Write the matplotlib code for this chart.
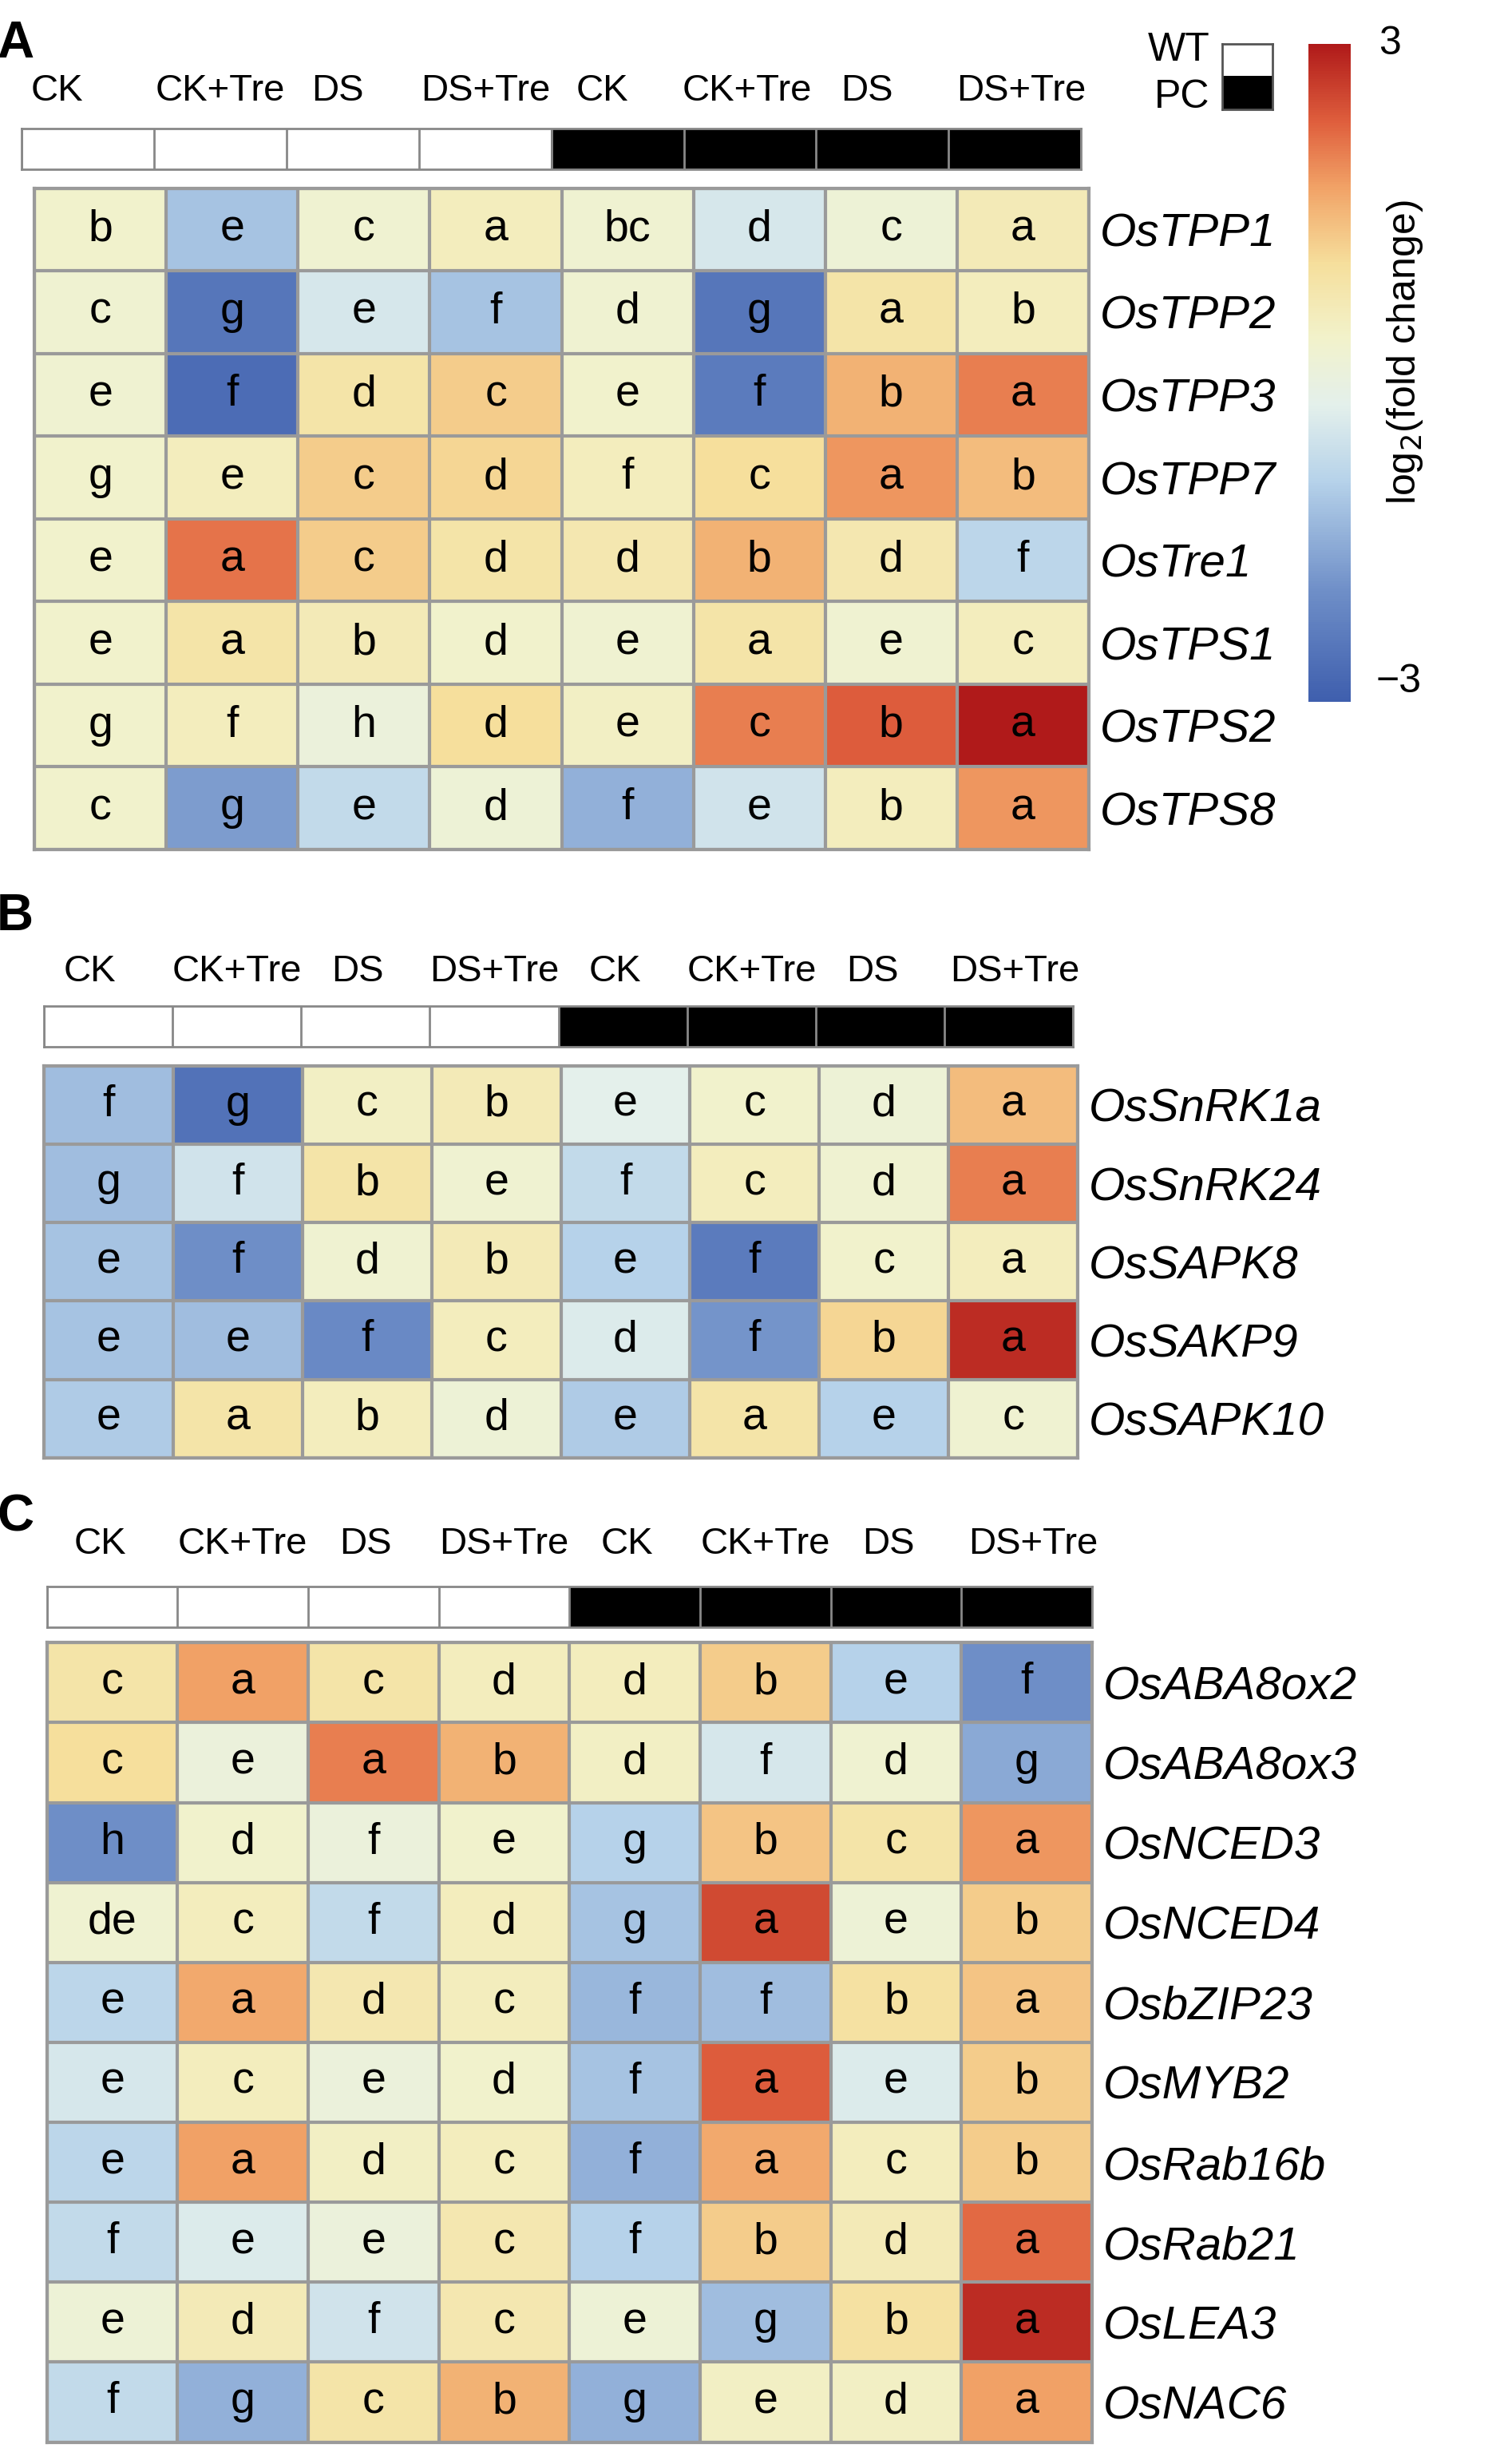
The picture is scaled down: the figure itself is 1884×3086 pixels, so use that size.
import matplotlib
matplotlib.use("Agg")
import matplotlib.pyplot as plt
import numpy as np
from matplotlib.colors import Normalize, LinearSegmentedColormap

plt.rcParams['font.family'] = ['Liberation Sans', 'DejaVu Sans']

conds = ["CK", "CK+Tre", "DS", "DS+Tre", "CK", "CK+Tre", "DS", "DS+Tre"]
genes_A = ["OsTPP1","OsTPP2","OsTPP3","OsTPP7","OsTre1","OsTPS1","OsTPS2","OsTPS8"]
vals_A = [[0.3,-1.2,0.2,0.5,0.2,-0.5,0.1,0.6],
          [0.2,-2.5,-0.5,-1.2,0.2,-2.5,0.8,0.5],
          [0.2,-2.7,0.8,1.2,0.3,-2.4,1.5,2.0],
          [0.3,0.5,1.2,1.1,0.5,1.0,1.8,1.4],
          [0.3,2.1,1.2,0.8,0.7,1.5,0.7,-0.9],
          [0.3,0.8,0.6,0.3,0.2,0.8,0.2,0.5],
          [0.3,0.5,0.0,1.0,0.4,2.0,2.3,3.0],
          [0.3,-1.8,-0.8,0.1,-1.5,-0.6,0.5,1.8]]
let_A = [["b","e","c","a","bc","d","c","a"],
         ["c","g","e","f","d","g","a","b"],
         ["e","f","d","c","e","f","b","a"],
         ["g","e","c","d","f","c","a","b"],
         ["e","a","c","d","d","b","d","f"],
         ["e","a","b","d","e","a","e","c"],
         ["g","f","h","d","e","c","b","a"],
         ["c","g","e","d","f","e","b","a"]]
genes_B = ["OsSnRK1a","OsSnRK24","OsSAPK8","OsSAKP9","OsSAPK10"]
vals_B = [[-1.3,-2.6,0.4,0.6,-0.3,0.3,0.1,1.4],
          [-1.3,-0.6,0.8,0.2,-0.8,0.5,0.2,2.0],
          [-1.2,-2.0,0.2,0.6,-1.0,-2.4,0.3,0.5],
          [-1.2,-1.3,-2.1,0.5,-0.4,-1.9,1.1,2.8],
          [-1.1,0.8,0.5,0.1,-1.1,0.8,-1.0,0.2]]
let_B = [["f","g","c","b","e","c","d","a"],
         ["g","f","b","e","f","c","d","a"],
         ["e","f","d","b","e","f","c","a"],
         ["e","e","f","c","d","f","b","a"],
         ["e","a","b","d","e","a","e","c"]]
genes_C = ["OsABA8ox2","OsABA8ox3","OsNCED3","OsNCED4","OsbZIP23","OsMYB2","OsRab16b","OsRab21","OsLEA3","OsNAC6"]
vals_C = [[0.8,1.7,0.8,0.5,0.5,1.2,-1.0,-2.0],
          [1.0,0.0,2.0,1.5,0.4,-0.5,0.2,-1.6],
          [-2.0,0.3,0.0,0.3,-1.0,1.3,0.8,1.8],
          [0.2,0.5,-0.8,0.5,-1.2,2.5,0.1,1.2],
          [-0.9,1.6,0.7,0.5,-1.4,-1.3,0.9,1.3],
          [-0.5,0.5,0.0,0.3,-1.2,2.3,-0.4,1.2],
          [-0.9,1.7,0.4,0.5,-1.5,1.6,0.5,1.2],
          [-0.8,-0.4,0.0,0.7,-1.0,1.2,0.6,2.2],
          [0.1,0.6,-0.6,0.7,0.1,-1.3,0.9,2.8],
          [-0.8,-1.5,0.8,1.5,-1.5,0.4,0.4,1.7]]
let_C = [["c","a","c","d","d","b","e","f"],
         ["c","e","a","b","d","f","d","g"],
         ["h","d","f","e","g","b","c","a"],
         ["de","c","f","d","g","a","e","b"],
         ["e","a","d","c","f","f","b","a"],
         ["e","c","e","d","f","a","e","b"],
         ["e","a","d","c","f","a","c","b"],
         ["f","e","e","c","f","b","d","a"],
         ["e","d","f","c","e","g","b","a"],
         ["f","g","c","b","g","e","d","a"]]
genotype = [0,0,0,0,1,1,1,1]

W, H = 960.0, 1572.0
fig = plt.figure(figsize=(18.84, 30.86), dpi=100)
stops = [(0.0, "#3f5fae"), (1/6, "#6f8fc8"), (2/6, "#b6d2ea"), (0.45, "#e4f0ec"),
         (0.55, "#f2f3cc"), (4/6, "#f6df9c"), (0.78, "#f2a468"), (0.88, "#e0603e"), (1.0, "#b01a1a")]
cmap = LinearSegmentedColormap.from_list("hm", stops)
norm = Normalize(-3, 3)

def ax_at(x0, y0, x1, y1):
    return fig.add_axes([x0/W, 1-y1/H, (x1-x0)/W, (y1-y0)/H])

def panel(letter, ly, hy, bar, heat, genes, vals, lets, hx):
    fig.text(-2/W, 1-ly/H, letter, fontsize=46, fontweight="bold", va="center", ha="left")
    bx0, by0, bx1, by1 = bar
    cw = (bx1-bx0)/8
    for i, c in enumerate(conds):
        fig.text((bx0+cw*(i+0.5)+hx[i])/W, 1-hy/H, c, fontsize=34, ha="center", va="center")
    axb = ax_at(*bar)
    axb.imshow([genotype], cmap="Greys", vmin=0, vmax=1, aspect="auto")
    for i in range(9):
        axb.axvline(i-0.5, color="#888888", lw=2)
    axb.set_xticks([]); axb.set_yticks([])
    for s in axb.spines.values():
        s.set_color("#888888"); s.set_linewidth(2)
    ax = ax_at(*heat)
    v = np.array(vals)
    ax.imshow(v, cmap=cmap, norm=norm, aspect="auto")
    n = v.shape[0]
    for i in range(n+1):
        ax.axhline(i-0.5, color="#9a9a9a", lw=3)
    for j in range(9):
        ax.axvline(j-0.5, color="#9a9a9a", lw=3)
    for i in range(n):
        for j in range(8):
            ax.text(j, i, lets[i][j], ha="center", va="center", fontsize=40)
    ax.set_xticks([])
    ax.set_yticks(range(n))
    ax.yaxis.tick_right()
    ax.set_yticklabels(genes, fontsize=42, style="italic")
    ax.tick_params(axis="y", length=0, pad=10)
    for s in ax.spines.values():
        s.set_color("#9a9a9a"); s.set_linewidth(3)

panel("A", 28, 58, (14, 82, 690, 108), (22, 120, 695, 542), genes_A, vals_A, let_A,
      [-20, 0, -10, 0, -10, -2, -10, 4])
panel("B", 585, 620, (28, 642, 685, 668), (28, 680, 688, 930), genes_B, vals_B, let_B,
      [-12, 0, -5, 0, -5, 0, -5, 4])
panel("C", 968, 985, (30, 1012, 697, 1038), (30, 1048, 697, 1558), genes_C, vals_C, let_C,
      [-8, 0, -5, 0, -5, 0, -5, 4])

cax = ax_at(835, 28, 862, 448)
grad = np.linspace(3, -3, 256).reshape(-1, 1)
cax.imshow(grad, cmap=cmap, norm=norm, aspect="auto")
cax.set_xticks([]); cax.set_yticks([])
for s in cax.spines.values():
    s.set_visible(False)
fig.text(880/W, 1-28/H, "3", fontsize=36, va="center", ha="left")
fig.text(878/W, 1-435/H, "\u22123", fontsize=36, va="center", ha="left")
fig.text(897/W, 1-225/H, "log$_2$(fold change)", fontsize=36, rotation=90, va="center", ha="center")

fig.text(772/W, 1-32/H, "WT", fontsize=36, ha="right", va="center")
fig.text(772/W, 1-62/H, "PC", fontsize=36, ha="right", va="center")
lax = ax_at(780, 28, 812, 70)
lax.imshow([[0], [1]], cmap="Greys", vmin=0, vmax=1, aspect="auto")
lax.set_xticks([]); lax.set_yticks([])
for s in lax.spines.values():
    s.set_color("#555555"); s.set_linewidth(2)

fig.savefig("out.png", dpi=100)
